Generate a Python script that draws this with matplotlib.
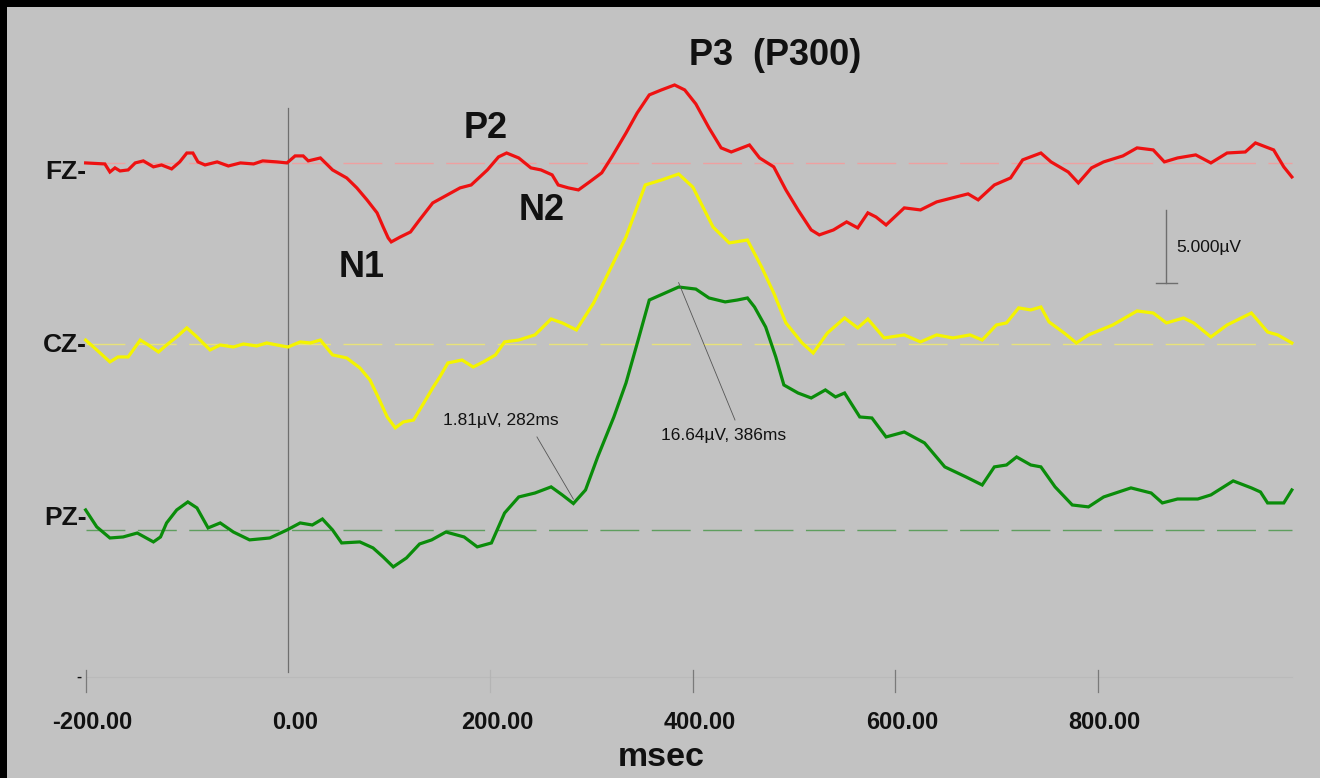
import matplotlib.pyplot as plt

plt.rcParams["font.family"] = ["Liberation Sans", "DejaVu Sans"]

# ERP grand average, time in ms, amplitude in microvolts (positive up)
fz_t = [-200, -181, -176, -171, -166, -158, -151, -143, -133, -125, -115, -107,
        -100, -94, -89, -82, -70, -59, -47, -34, -25, -11, -1, 7, 15, 20, 32,
        37, 44, 58, 68, 78, 88, 94, 99, 102, 111, 121, 130, 143, 170, 181, 197,
        208, 216, 228, 240, 250, 261, 267, 277, 287, 298, 310, 320, 334, 345,
        357, 369, 382, 392, 403, 416, 428, 438, 456, 466, 480, 492, 504, 517,
        525, 539, 552, 563, 573, 581, 591, 609, 625, 641, 672, 682, 698, 714,
        726, 744, 754, 771, 781, 794, 806, 825, 839, 855, 866, 879, 897, 912,
        928, 946, 956, 974, 984, 992]
fz_v = [0, -0.07, -0.62, -0.34, -0.55, -0.48, 0, 0.14, -0.27, -0.14, -0.41, 0.07,
        0.68, 0.68, 0.07, -0.14, 0.07, -0.21, 0, -0.07, 0.14, 0.07, 0, 0.48,
        0.48, 0.14, 0.34, 0, -0.48, -1.03, -1.71, -2.53, -3.42, -4.38, -5.14,
        -5.41, -5.07, -4.73, -3.9, -2.74, -1.71, -1.51, -0.48, 0.41, 0.68, 0.34,
        -0.34, -0.48, -0.82, -1.51, -1.71, -1.85, -1.3, -0.68, 0.41, 2.05, 3.42,
        4.66, 5.0, 5.34, 5.0, 4.04, 2.4, 1.03, 0.75, 1.23, 0.34, -0.27, -1.85,
        -3.22, -4.59, -4.93, -4.59, -4.04, -4.45, -3.42, -3.7, -4.25, -3.08,
        -3.22, -2.67, -2.12, -2.53, -1.51, -1.03, 0.21, 0.68, 0.07, -0.62,
        -1.37, -0.34, 0.07, 0.48, 1.03, 0.89, 0.07, 0.34, 0.55, 0, 0.68, 0.75,
        1.37, 0.89, -0.27, -0.96]

cz_t = [-200, -189, -176, -168, -158, -146, -138, -128, -120, -110, -100, -90,
        -77, -67, -54, -44, -31, -21, -11, 0, 12, 22, 32, 44, 58, 71, 81, 89, 98,
        106, 114, 124, 133, 143, 150, 158, 172, 183, 193, 205, 214, 228, 244,
        260, 271, 285, 302, 334, 353, 369, 386, 400, 420, 436, 454, 468, 480,
        492, 508, 519, 533, 550, 563, 573, 589, 609, 625, 641, 657, 674, 686,
        700, 710, 722, 734, 744, 752, 767, 779, 791, 815, 839, 855, 868, 885,
        895, 912, 928, 952, 968, 978, 992]
cz_v = [0.27, -0.41, -1.23, -0.89, -0.89, 0.27, -0.07, -0.55, -0.07, 0.48, 1.1,
        0.48, -0.41, -0.07, -0.21, 0, -0.14, 0.07, -0.07, -0.21, 0.14, 0.07,
        0.27, -0.75, -0.96, -1.64, -2.47, -3.63, -5.0, -5.75, -5.34, -5.21,
        -4.18, -3.01, -2.26, -1.3, -1.1, -1.58, -1.23, -0.75, 0.14, 0.27, 0.62,
        1.71, 1.44, 0.96, 2.81, 7.33, 10.89, 11.23, 11.64, 10.75, 8.01, 6.92,
        7.12, 5.27, 3.49, 1.44, 0.07, -0.62, 0.75, 1.78, 1.1, 1.71, 0.41, 0.62,
        0.14, 0.62, 0.41, 0.62, 0.27, 1.3, 1.44, 2.47, 2.33, 2.53, 1.51, 0.75,
        0.07, 0.62, 1.3, 2.26, 2.12, 1.44, 1.78, 1.44, 0.48, 1.3, 2.12, 0.82,
        0.62, 0.07]

pz_t = [-200, -189, -176, -163, -149, -133, -126, -120, -110, -99, -90, -79,
        -67, -54, -38, -18, -1, 12, 24, 34, 44, 53, 71, 84, 94, 104, 117, 130,
        142, 156, 174, 187, 201, 214, 228, 244, 260, 271, 282, 294, 306, 322,
        334, 346, 357, 386, 403, 416, 432, 444, 454, 461, 472, 482, 490, 504,
        517, 531, 541, 550, 565, 577, 591, 609, 629, 649, 670, 686, 698, 710,
        720, 734, 744, 758, 775, 791, 806, 833, 853, 864, 879, 899, 912, 934,
        952, 961, 968, 984, 992]
pz_v = [1.37, 0.21, -0.55, -0.48, -0.21, -0.82, -0.48, 0.48, 1.37, 1.92, 1.51,
        0.14, 0.48, -0.14, -0.68, -0.55, 0, 0.48, 0.34, 0.75, 0, -0.89, -0.82,
        -1.23, -1.85, -2.53, -1.92, -0.96, -0.68, -0.14, -0.48, -1.16, -0.89,
        1.16, 2.26, 2.53, 2.95, 2.4, 1.81, 2.74, 5.0, 7.74, 10.07, 13.01, 15.75,
        16.64, 16.5, 15.89, 15.62, 15.75, 15.89, 15.27, 13.9, 11.85, 9.93, 9.38,
        9.04, 9.59, 9.11, 9.38, 7.74, 7.67, 6.37, 6.71, 5.96, 4.32, 3.63, 3.08,
        4.32, 4.45, 5.0, 4.45, 4.32, 2.95, 1.71, 1.58, 2.26, 2.88, 2.53, 1.85,
        2.12, 2.12, 2.4, 3.36, 2.88, 2.6, 1.85, 1.85, 2.74]

channels = ["FZ", "CZ", "PZ"]
offsets = [25.14, 12.74, 0.0]   # stacking offsets in uV
colors = ["#ee1111", "#f4f400", "#0a8c0a"]
base_colors = ["#eea0a0", "#e8e27a", "#5e9e5e"]
label_y = [-0.62, -0.07, 0.82]  # label nudge relative to each baseline

peaks = [(282, 1.81), (386, 16.64)]
xticks = [-200, 0, 200, 400, 600, 800]

fig = plt.figure(figsize=(13.2, 7.78), dpi=100)
fig.patch.set_facecolor("black")
ax = fig.add_axes([7 / 1320, 0, 1313 / 1320, 771 / 778])
ax.set_facecolor("#c2c2c2")
ax.set_xlim(-277.7, 1019.8)
ax.set_ylim(-16.99, 35.82)
ax.set_xticks([])
ax.set_yticks([])
for sp in ax.spines.values():
    sp.set_visible(False)

# stimulus onset + time axis
ax.plot([0, 0], [-9.73, 28.9], color="#6e6e6e", lw=0.9)
ax.plot([-200, 992], [-10.07, -10.07], color="#bababa", lw=0.8)
for t in xticks:
    if t == 0:
        tc = None
    elif t == 200:
        tc = "#b4b4b4"
    else:
        tc = "#7a7a7a"
    if tc:
        ax.plot([t, t], [-9.59, -11.1], color=tc, lw=0.9)
    ax.text(t + 7, -13.22, f"{t:.2f}", ha="center", va="center",
            fontsize=17, fontweight="bold", color="#111111")
ax.text(368.6, -15.62, "msec", ha="center", va="center",
        fontsize=24.5, fontweight="bold", color="#111111")
ax.text(-204, -10.07, "-", ha="right", va="center", fontsize=11,
        fontweight="bold", color="#111111")

data = [(fz_t, fz_v), (cz_t, cz_v), (pz_t, pz_v)]
for (t, v), name, off, c, bc, ly in zip(data, channels, offsets, colors,
                                         base_colors, label_y):
    ax.plot([-200, 992], [off, off], color=bc, lw=1.0, dashes=(28, 9))
    ax.plot(t, [val + off for val in v], color=c, lw=2.3, solid_joinstyle="miter")
    ax.text(-199, off + ly, name + "-", ha="right", va="center",
            fontsize=19, fontweight="bold", color="#111111")

# component labels
big = dict(ha="center", va="center", fontsize=26, fontweight="bold", color="#111111")
ax.text(73, 18.0, "N1", **big)
ax.text(195, 27.5, "P2", **big)
ax.text(251, 21.85, "N2", **big)
ax.text(481, 32.5, "P3  (P300)", **big)

# peak markers
pk_text = ["1.81\u00b5V, 282ms", "16.64\u00b5V, 386ms"]
pk_xy = [(210.5, 7.53), (430.8, 6.44)]
pk_start = [(246, 6.37), (441.7, 7.53)]
for (pt, pv), s, xy, st in zip(peaks, pk_text, pk_xy, pk_start):
    ax.text(xy[0], xy[1], s, ha="center", va="center", fontsize=12.5,
            color="#111111")
    ax.plot([st[0], pt], [st[1], pv + 0.3], color="#555555", lw=0.6)

# calibration bar
ax.plot([867.6, 867.6], [21.92, 16.92], color="#6e6e6e", lw=1.0)
ax.plot([857.7, 878.5], [16.92, 16.92], color="#6e6e6e", lw=1.0)
ax.text(877.5, 19.32, "5.000\u00b5V", ha="left", va="center", fontsize=12.5,
        color="#111111")

fig.savefig("out.png", dpi=100, facecolor="black")
